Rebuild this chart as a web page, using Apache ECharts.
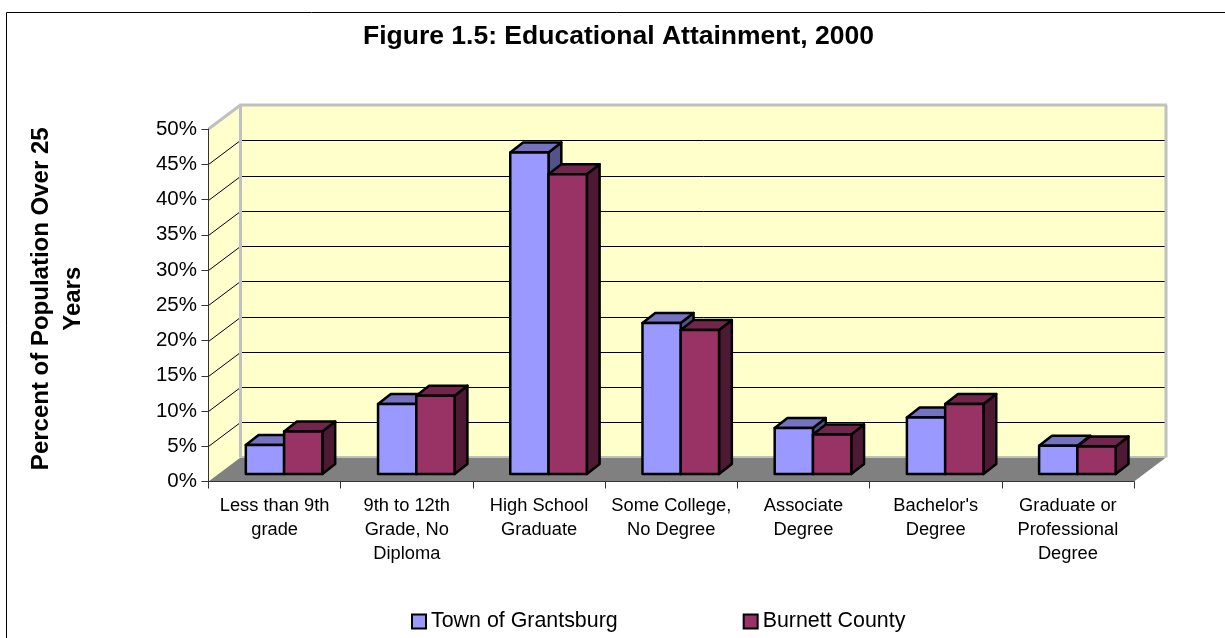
<!DOCTYPE html>
<html><head><meta charset="utf-8">
<style>html,body{margin:0;padding:0;background:#fff}#c{width:1225px;height:638px}</style>
<script src="https://cdn.jsdelivr.net/npm/echarts@6/dist/echarts.min.js"></script>
</head><body><div id="c"></div>
<script>
const categories = ["Less than 9th\ngrade","9th to 12th\nGrade, No\nDiploma","High School\nGraduate","Some College,\nNo Degree","Associate\nDegree","Bachelor's\nDegree","Graduate or\nProfessional\nDegree"];
const townValues = [4.1, 9.9, 45.6, 21.4, 6.5, 8.0, 4.0];
const countyValues = [6.0, 11.1, 42.5, 20.4, 5.6, 9.9, 3.9];
const yTicks = [0,5,10,15,20,25,30,35,40,45,50];
const FONT = '"Liberation Sans", Arial, sans-serif';
const WALL_DX = 32, WALL_DY = -24;      // depth of the chart box
const BAR_DX = 9.5, BAR_DY = -7.6;      // bar front plane offset inside the box
const BAR_DEPTH_X = 12.8, BAR_DEPTH_Y = -10;
const BAR_W = 0.2895;                   // share of a category band

function wall(params, api) {
  const cs = params.coordSys;
  const L = cs.x, R = cs.x + cs.width;
  const y0 = api.coord([0, 0])[1], yT = api.coord([0, yTicks[yTicks.length - 1]])[1];
  const kids = [];
  const poly = (pts, fill) => ({type:'polygon', shape:{points:pts}, style:{fill, stroke:null}});
  const line = (a, b, stroke, w) => ({type:'line', shape:{x1:a[0],y1:a[1],x2:b[0],y2:b[1]}, style:{stroke, lineWidth:w}});
  kids.push(poly([[L+WALL_DX,yT+WALL_DY],[R+WALL_DX,yT+WALL_DY],[R+WALL_DX,y0+WALL_DY],[L+WALL_DX,y0+WALL_DY]], '#FFFFCC'));
  kids.push(poly([[L,yT],[L+WALL_DX,yT+WALL_DY],[L+WALL_DX,y0+WALL_DY],[L,y0]], '#FFFFCC'));
  yTicks.forEach(t => {
    if (t === 0 || t === yTicks[yTicks.length - 1]) return;
    const y = Math.round(api.coord([0, t])[1]) + 0.5;
    const by = y + WALL_DY;
    kids.push(line([L,y],[L+WALL_DX,by],'#000',1));
    kids.push(line([L+WALL_DX,by],[R+WALL_DX,by],'#000',1));
  });
  kids.push(poly([[L,y0],[R,y0],[R+WALL_DX,y0+WALL_DY],[L+WALL_DX,y0+WALL_DY]], '#808080'));
  const G = '#C0C0C0';
  kids.push(line([L,yT],[L+WALL_DX,yT+WALL_DY],G,3));
  kids.push(line([L+WALL_DX-1,yT+WALL_DY],[R+WALL_DX+1,yT+WALL_DY],G,3));
  kids.push(line([L+WALL_DX,yT+WALL_DY],[L+WALL_DX,y0+WALL_DY],G,3));
  kids.push(line([R+WALL_DX,yT+WALL_DY],[R+WALL_DX,y0+WALL_DY],G,3));
  kids.push(line([L+WALL_DX,y0+WALL_DY-0.5],[R+WALL_DX,y0+WALL_DY-0.5],G,2));
  return {type:'group', children:kids};
}

function bar3d(seriesPos, front, top, side) {
  return function (params, api) {
    const i = api.value(0), v = api.value(1);
    const band = api.size([1, 0])[0];
    const w = band * BAR_W;
    const c = api.coord([i, v]), b = api.coord([i, 0]);
    const x0 = c[0] + BAR_DX + (seriesPos === 0 ? -w : 0), x1 = x0 + w;
    const yB = b[1] + BAR_DY, yT = c[1] + BAR_DY;
    const dx = BAR_DEPTH_X, dy = BAR_DEPTH_Y;
    const st = f => ({fill:f, stroke:'#000', lineWidth:2.5, lineJoin:'round'});
    return {type:'group', children:[
      {type:'polygon', shape:{points:[[x1,yT],[x1+dx,yT+dy],[x1+dx,yB+dy],[x1,yB]]}, style:st(side)},
      {type:'polygon', shape:{points:[[x0,yT],[x0+dx,yT+dy],[x1+dx,yT+dy],[x1,yT]]}, style:st(top)},
      {type:'polygon', shape:{points:[[x0,yT],[x1,yT],[x1,yB],[x0,yB]]}, style:st(front)}
    ]};
  };
}

const chart = echarts.init(document.getElementById('c'), null, {renderer:'canvas', width:1225, height:638});
chart.setOption({
  animation:false,
  backgroundColor:'#fff',
  title:{text:'Figure 1.5: Educational Attainment, 2000', left:363, top:21.5, padding:0, itemGap:0,
    textStyle:{fontFamily:FONT, fontWeight:'bold', fontSize:26.5, color:'#000', lineHeight:30}},
  legend:{left:411, top:611, padding:0, itemGap:125, itemWidth:14, itemHeight:14, icon:'rect',
    itemStyle:{borderColor:'#000', borderWidth:2},
    textStyle:{fontFamily:FONT, fontSize:21.4, color:'#000', padding:[0,0,0,0]},
    data:['Town of Grantsburg','Burnett County']},
  grid:{left:208.5, right:91, top:129, bottom:156.5, containLabel:false},
  xAxis:{type:'category', data:categories, z:6,
    axisLine:{lineStyle:{color:'#333', width:1}},
    axisTick:{show:true, alignWithLabel:false, length:7, lineStyle:{color:'#333'}},
    axisLabel:{interval:0, fontFamily:FONT, fontSize:18.3, color:'#000', lineHeight:24, margin:12}},
  yAxis:{type:'value', min:0, max:50, interval:5, z:6,
    name:'Percent of Population Over 25\nYears', nameLocation:'middle', nameRotate:90, nameGap:119,
    nameTextStyle:{fontFamily:FONT, fontWeight:'bold', fontSize:24, color:'#000', lineHeight:32, padding:[0,0,0,13]},
    axisLine:{show:true, lineStyle:{color:'#333', width:1}},
    axisTick:{show:true, length:7, lineStyle:{color:'#333'}},
    splitLine:{show:false},
    axisLabel:{formatter:'{value}%', fontFamily:FONT, fontSize:20.5, color:'#000', margin:11.5}},
  graphic:[{type:'rect', silent:true, z:-1, shape:{x:6.5, y:12.5, width:1230, height:640},
    style:{fill:'none', stroke:'#000', lineWidth:1}}],
  series:[
    {type:'custom', name:'_wall', silent:true, z:1, clip:false, renderItem:wall, data:[[0,0]], encode:{x:0,y:1}, legendHoverLink:false},
    {type:'custom', name:'Town of Grantsburg', z:7, clip:false, renderItem:bar3d(0,'#9999FF','#7373BF','#53538A'),
      itemStyle:{color:'#9999FF'}, encode:{x:0,y:1}, data:townValues.map((v,i)=>[i,v])},
    {type:'custom', name:'Burnett County', z:8, clip:false, renderItem:bar3d(1,'#993366','#73264D','#4D1933'),
      itemStyle:{color:'#993366'}, encode:{x:0,y:1}, data:countyValues.map((v,i)=>[i,v])}
  ]
});
</script></body></html>
